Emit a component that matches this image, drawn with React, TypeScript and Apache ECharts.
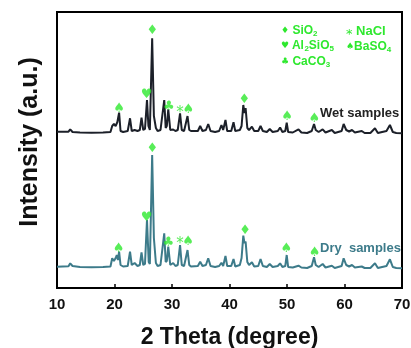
import { useEffect, useRef } from 'react';
import * as echarts from 'echarts';

// 2θ (degree) vs intensity (a.u., arbitrary offset units)
const wetPattern: [number, number][] = [
  [10.0, 156.3], [12.0, 156.3], [12.3, 158.7], [12.7, 156], [14, 155.5], [16, 155.3], [18, 155.5],
  [19.3, 156], [19.6, 162], [19.9, 164], [20.2, 162], [20.5, 166], [20.8, 175.3], [21.05, 157], [21.5, 156],
  [22.3, 157], [22.7, 169.7], [23.0, 157], [23.5, 158], [24.0, 157],
  [24.4, 158], [24.7, 170.3], [25.0, 158], [25.3, 159],
  [25.65, 188], [25.9, 162], [26.15, 158],
  [26.55, 249.7], [26.85, 172], [27.2, 160], [27.5, 157], [28.0, 158],
  [28.65, 188], [28.9, 160], [29.1, 162], [29.35, 178.7], [29.7, 158], [30.2, 158.5], [30.6, 157],
  [31.0, 158], [31.4, 174.7], [31.7, 158], [32.1, 157], [32.7, 172], [33.0, 158],
  [33.3, 157], [34.5, 157], [34.9, 162], [35.3, 157], [35.9, 158], [36.3, 164], [36.7, 157],
  [37.5, 156], [38.2, 157], [38.6, 163], [38.9, 158], [39.3, 168], [39.6, 157],
  [40.3, 157], [40.7, 165.7], [41.0, 157],
  [41.8, 158], [42.1, 162], [42.4, 183], [42.6, 175], [42.8, 180], [43.1, 160], [43.4, 158],
  [43.9, 161.3], [44.3, 157], [45.0, 157], [45.4, 162], [45.8, 157],
  [46.5, 156], [47.0, 159], [47.5, 156], [48.4, 157], [48.8, 160.5], [49.2, 156], [49.7, 157], [49.95, 165.3], [50.2, 156],
  [51.0, 155.5], [52.0, 158.7], [52.5, 155.5], [53.5, 155], [54.3, 157], [54.7, 164], [55.0, 158], [55.5, 156],
  [56.2, 158.7], [56.7, 155.5], [57.8, 158], [58.3, 155],
  [59.5, 157], [59.85, 164], [60.3, 158], [60.8, 156.5], [61.3, 158], [61.8, 155.5],
  [63.0, 157], [63.5, 155], [64.5, 155], [65.3, 159.7], [65.8, 155],
  [67.3, 157], [67.9, 163], [68.4, 156], [69.0, 155], [70.0, 154.7],
];

const dryPattern: [number, number][] = [
  [10.0, 21.3], [12.0, 21.7], [12.3, 24.7], [12.7, 22], [14, 21], [16, 20.8], [18, 21],
  [19.3, 21.5], [19.6, 29.7], [19.9, 27], [20.2, 30], [20.4, 33], [20.6, 28], [20.8, 36.3], [21.05, 23], [21.5, 21.5],
  [22.3, 22], [22.7, 36.3], [23.0, 23], [23.5, 25], [24.0, 22],
  [24.4, 23], [24.7, 35.7], [25.0, 23], [25.3, 24],
  [25.65, 68], [25.95, 26], [26.15, 24],
  [26.55, 133], [26.85, 50], [27.2, 25], [27.5, 22], [28.0, 23],
  [28.65, 54.7], [28.9, 26], [29.1, 27], [29.35, 41.3], [29.7, 23], [30.2, 25], [30.6, 22],
  [31.0, 23], [31.4, 43], [31.7, 23], [32.1, 22], [32.7, 38], [33.0, 23],
  [33.3, 21.5], [34.5, 22], [34.9, 26.3], [35.3, 22], [35.9, 23], [36.3, 29.7], [36.7, 22],
  [37.5, 21], [38.2, 22], [38.6, 25.3], [38.9, 22], [39.3, 32], [39.6, 22],
  [40.3, 22], [40.7, 29], [41.0, 21.5],
  [41.8, 23], [42.1, 30], [42.4, 52.3], [42.6, 45], [42.8, 46.3], [43.1, 26], [43.4, 23],
  [43.9, 25.7], [44.3, 21.5], [45.0, 22], [45.4, 29], [45.8, 22],
  [46.5, 21], [47.0, 24], [47.5, 21], [48.4, 22], [48.8, 24.7], [49.2, 21], [49.7, 22], [49.95, 33], [50.2, 21],
  [51.0, 20.5], [52.0, 22.3], [52.5, 20.5], [53.5, 20], [54.3, 22], [54.7, 30.7], [55.0, 23], [55.5, 21],
  [56.2, 24], [56.7, 20.5], [57.8, 22.3], [58.3, 20],
  [59.5, 22], [59.85, 29.7], [60.3, 23], [60.8, 21.5], [61.3, 23], [61.8, 20.5],
  [63.0, 21.5], [63.5, 20], [64.5, 20], [65.3, 24.7], [65.8, 20],
  [67.3, 22], [67.9, 28.7], [68.4, 21], [69.0, 20], [70.0, 19.7],
];

const phaseGlyph: Record<string, string> = { SiO2: '♦', Al2SiO5: '♥', CaCO3: '♣', NaCl: '*', BaSO4: '♠' };
const markPhase = ['BaSO4', 'Al2SiO5', 'SiO2', 'CaCO3', 'NaCl', 'BaSO4', 'SiO2', 'BaSO4', 'BaSO4'];
const wetMarkX = [20.8, 25.6, 26.6, 29.45, 31.4, 32.85, 42.6, 50.0, 54.75];
const wetMarkY = [180.7, 194.7, 258.7, 183, 178.7, 179.7, 189.7, 173, 170.7];
const dryMarkX = [20.7, 25.6, 26.6, 29.35, 31.4, 32.8, 42.7, 49.9, 54.8];
const dryMarkY = [40.7, 72, 140.7, 46.3, 48, 47.3, 58.7, 40.3, 36.3];

const xTicks = [10, 20, 30, 40, 50, 60, 70];

const GREEN = '#2ee82e';
const WET = '#1c2029';
const DRY = '#3d7b8a';
const FONT = '"Liberation Sans", Arial, sans-serif';

function marks(xs: number[], ys: number[]) {
  return xs.map((x, i) => ({
    value: [x, ys[i]],
    label: {
      formatter: phaseGlyph[markPhase[i]],
      fontSize: markPhase[i] === 'NaCl' ? 15 : 13,
      offset: markPhase[i] === 'NaCl' ? [0, 3] : [0, 0],
    },
  }));
}

export default function App() {
  const ref = useRef<HTMLDivElement>(null);
  useEffect(() => {
    if (!ref.current) return;
    const chart = echarts.init(ref.current, undefined, { renderer: 'svg' });
    const sub = { fontSize: 8, fontWeight: 'bold', verticalAlign: 'bottom', lineHeight: 9, fontFamily: FONT, color: GREEN } as any;
    const sym = { fontSize: 9, fontFamily: '"DejaVu Sans"', color: GREEN, lineHeight: 15 } as any;
    const ast = { fontSize: 13, fontFamily: '"DejaVu Sans"', color: GREEN, lineHeight: 15, padding: [5, 0, 0, 0] } as any;
    const legendStyle = (text: string, size = 12) => ({
      text,
      fontSize: size,
      fontWeight: 'bold',
      fontFamily: FONT,
      fill: GREEN,
      lineHeight: 15,
      rich: { s: sub, g: sym, a: ast },
    });
    chart.setOption({
      animation: false,
      grid: { left: 57, right: 9, top: 12, bottom: 60, show: true, borderColor: '#000', borderWidth: 2, outerBoundsMode: 'none' } as any,
      xAxis: {
        type: 'value',
        min: 10,
        max: 70,
        interval: 10,
        axisLine: { show: true, lineStyle: { color: '#000', width: 2 } },
        axisTick: { show: true, inside: true, length: 4, lineStyle: { color: '#000', width: 1.5 } },
        axisLabel: {
          fontSize: 15, fontWeight: 'bold', fontFamily: FONT, color: '#111', margin: 8,
          formatter: (v: number) => (xTicks.includes(v) ? String(v) : ''),
        },
        splitLine: { show: false },
        name: '2 Theta (degree)',
        nameLocation: 'middle',
        nameGap: 36,
        nameTextStyle: { fontSize: 23, fontWeight: 'bold', fontFamily: FONT, color: '#111' },
      },
      yAxis: {
        type: 'value',
        min: 0,
        max: 276,
        axisLine: { show: false },
        axisTick: { show: false },
        axisLabel: { show: false },
        splitLine: { show: false },
      },
      series: [
        { type: 'line', data: wetPattern, showSymbol: false, lineStyle: { color: WET, width: 2 }, z: 2 },
        { type: 'line', data: dryPattern, showSymbol: false, lineStyle: { color: DRY, width: 2 }, z: 2 },
        {
          type: 'scatter', data: marks(wetMarkX, wetMarkY), symbolSize: 0, z: 3,
          label: { show: true, position: 'inside', color: GREEN, fontSize: 13, fontFamily: '"DejaVu Sans"' },
        },
        {
          type: 'scatter', data: marks(dryMarkX, dryMarkY), symbolSize: 0, z: 3,
          label: { show: true, position: 'inside', color: GREEN, fontSize: 13, fontFamily: '"DejaVu Sans"' },
        },
      ],
      graphic: [
        {
          type: 'text', x: 28, y: 142, rotation: Math.PI / 2,
          style: { text: 'Intensity (a.u.)', fontSize: 25, fontWeight: 'bold', fontFamily: FONT, fill: '#111', align: 'center', verticalAlign: 'middle' },
        },
        { type: 'text', x: 281, y: 22, style: legendStyle('{g|♦} SiO{s|2}') },
        { type: 'text', x: 281, y: 37, style: legendStyle('{g|♥} Al{s|2}SiO{s|5}') },
        { type: 'text', x: 281, y: 53, style: legendStyle('{g|♣} CaCO{s|3}') },
        { type: 'text', x: 346, y: 23, style: legendStyle('{a|*} NaCl', 13) },
        { type: 'text', x: 346, y: 38, style: legendStyle('{g|♠}BaSO{s|4}') },
        { type: 'text', x: 320, y: 106, style: { text: 'Wet samples', fontSize: 13, fontWeight: 'bold', fontFamily: FONT, fill: '#222' } },
        { type: 'text', x: 320, y: 241, style: { text: 'Dry  samples', fontSize: 13, fontWeight: 'bold', fontFamily: FONT, fill: DRY } },
      ],
    });
    return () => chart.dispose();
  }, []);
  return <div ref={ref} style={{ position: 'fixed', left: 0, top: 0, width: 411, height: 348 }} />;
}
